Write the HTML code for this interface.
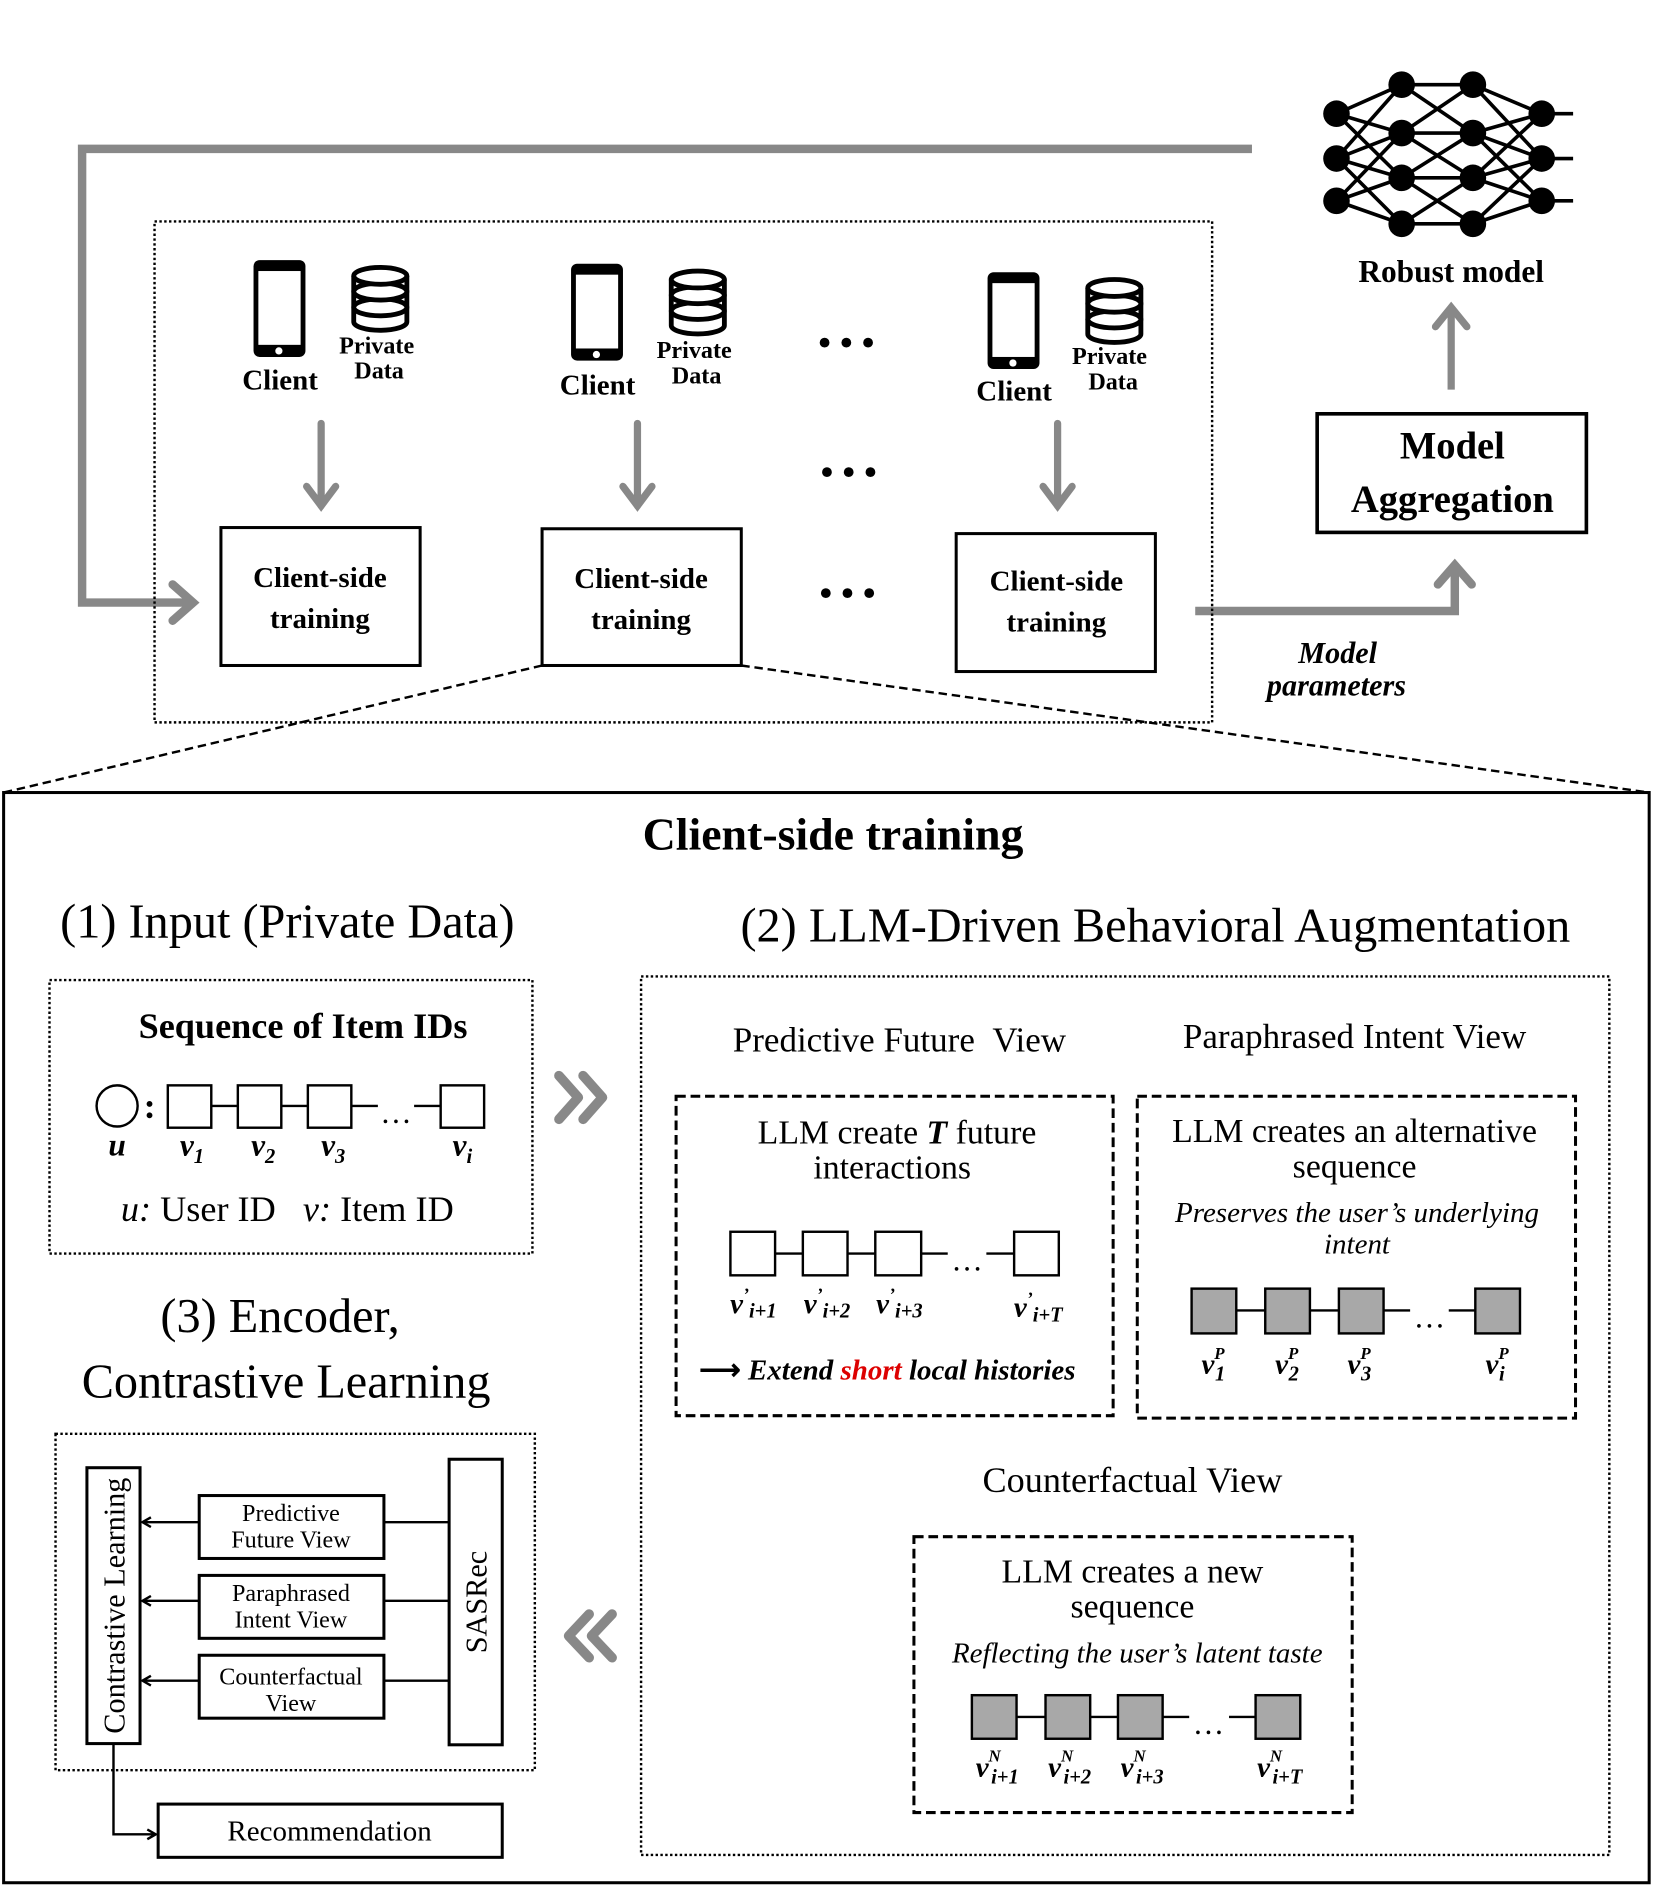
<!DOCTYPE html>
<html><head><meta charset="utf-8"><style>
html,body{margin:0;padding:0;background:#fff}
svg{display:block}
text{font-family:"Liberation Serif",serif;fill:#000}
.b{font-weight:bold}
.i{font-style:italic}
</style></head><body>
<svg width="1654" height="1890" viewBox="0 0 1370 1562" preserveAspectRatio="none" xmlns="http://www.w3.org/2000/svg">
<defs>
<marker id="ah" markerWidth="10" markerHeight="10" refX="8" refY="5" orient="auto" markerUnits="userSpaceOnUse"><path d="M1,1 L8,5 L1,9" fill="none" stroke="#000" stroke-width="2"/></marker>
</defs>
<polyline points="1037,123 68,123 68,498 158,498" fill="none" stroke="#888" stroke-width="7"/>
<polyline points="143,483 160,498 143,513" fill="none" stroke="#888" stroke-width="7" stroke-linecap="round"/>
<g stroke="#000" stroke-width="3">
<line x1="1107" y1="94" x2="1161" y2="70"/><line x1="1107" y1="94" x2="1161" y2="110"/><line x1="1107" y1="94" x2="1161" y2="147"/>
<line x1="1107" y1="131" x2="1161" y2="70"/><line x1="1107" y1="131" x2="1161" y2="110"/><line x1="1107" y1="131" x2="1161" y2="147"/><line x1="1107" y1="131" x2="1161" y2="185"/>
<line x1="1107" y1="166" x2="1161" y2="110"/><line x1="1107" y1="166" x2="1161" y2="147"/><line x1="1107" y1="166" x2="1161" y2="185"/>
<line x1="1161" y1="70" x2="1220" y2="70"/><line x1="1161" y1="70" x2="1220" y2="110"/>
<line x1="1161" y1="110" x2="1220" y2="70"/><line x1="1161" y1="110" x2="1220" y2="110"/><line x1="1161" y1="110" x2="1220" y2="147"/>
<line x1="1161" y1="147" x2="1220" y2="110"/><line x1="1161" y1="147" x2="1220" y2="147"/><line x1="1161" y1="147" x2="1220" y2="185"/>
<line x1="1161" y1="185" x2="1220" y2="147"/><line x1="1161" y1="185" x2="1220" y2="185"/>
<line x1="1277" y1="94" x2="1220" y2="70"/><line x1="1277" y1="94" x2="1220" y2="110"/><line x1="1277" y1="94" x2="1220" y2="147"/>
<line x1="1277" y1="131" x2="1220" y2="70"/><line x1="1277" y1="131" x2="1220" y2="110"/><line x1="1277" y1="131" x2="1220" y2="147"/><line x1="1277" y1="131" x2="1220" y2="185"/>
<line x1="1277" y1="166" x2="1220" y2="110"/><line x1="1277" y1="166" x2="1220" y2="147"/><line x1="1277" y1="166" x2="1220" y2="185"/>
<line x1="1277" y1="94" x2="1303" y2="94"/><line x1="1277" y1="131" x2="1303" y2="131"/><line x1="1277" y1="166" x2="1303" y2="166"/>
</g>
<g fill="#000">
<circle cx="1107" cy="94" r="11"/><circle cx="1107" cy="131" r="11"/><circle cx="1107" cy="166" r="11"/>
<circle cx="1161" cy="70" r="11"/><circle cx="1161" cy="110" r="11"/><circle cx="1161" cy="147" r="11"/><circle cx="1161" cy="185" r="11"/>
<circle cx="1220" cy="70" r="11"/><circle cx="1220" cy="110" r="11"/><circle cx="1220" cy="147" r="11"/><circle cx="1220" cy="185" r="11"/>
<circle cx="1277" cy="94" r="11"/><circle cx="1277" cy="131" r="11"/><circle cx="1277" cy="166" r="11"/>
</g>
<text x="1202" y="233" font-size="26" class="b" text-anchor="middle">Robust model</text>
<line x1="1202" y1="322" x2="1202" y2="256" stroke="#888" stroke-width="6"/>
<polyline points="1189,270 1202,254 1215,270" fill="none" stroke="#888" stroke-width="6" stroke-linecap="round"/>
<rect x="1091" y="342" width="223" height="98" fill="none" stroke="#000" stroke-width="3"/>
<text x="1203" y="379" font-size="32" class="b" text-anchor="middle">Model</text>
<text x="1203" y="423" font-size="32" class="b" text-anchor="middle">Aggregation</text>
<polyline points="990,505 1205,505 1205,468" fill="none" stroke="#888" stroke-width="7"/>
<polyline points="1191,483 1205,467 1219,483" fill="none" stroke="#888" stroke-width="7" stroke-linecap="round"/>
<text x="1108" y="548" font-size="25" class="b i" text-anchor="middle">Model</text>
<text x="1107" y="575" font-size="25" class="b i" text-anchor="middle">parameters</text>
<rect x="128" y="183" width="876" height="414" fill="none" stroke="#000" stroke-width="2" stroke-dasharray="2,2"/>
<g id="c1">
<rect x="210" y="215" width="43" height="80" rx="5" fill="#000"/><rect x="214" y="224" width="35" height="61" fill="#fff"/><circle cx="231" cy="290" r="3" fill="#fff"/>
<g fill="#fff" stroke="#000" stroke-width="4"><path d="M293,228 v38 a22,7 0 0 0 44,0 v-38"/><ellipse cx="315" cy="254" rx="22" ry="7"/><ellipse cx="315" cy="241" rx="22" ry="7"/><ellipse cx="315" cy="228" rx="22" ry="7"/></g>
</g>
<use href="#c1" transform="translate(263,3)"/>
<use href="#c1" transform="translate(608,10)"/>
<g font-size="24" class="b" text-anchor="middle">
<text x="232" y="322">Client</text><text x="312" y="292" font-size="20">Private</text><text x="314" y="313" font-size="20">Data</text>
<text x="495" y="326">Client</text><text x="575" y="296" font-size="20">Private</text><text x="577" y="317" font-size="20">Data</text>
<text x="840" y="331">Client</text><text x="919" y="301" font-size="20">Private</text><text x="922" y="322" font-size="20">Data</text>
</g>
<g font-size="30" class="b" text-anchor="middle"><text x="701" y="293">• • •</text><text x="703" y="400">• • •</text><text x="702" y="500">• • •</text></g>
<g stroke="#888" stroke-width="6" fill="none" stroke-linecap="round">
<line x1="266" y1="350" x2="266" y2="418"/><polyline points="254,402 266,418 278,402"/>
<line x1="528" y1="350" x2="528" y2="418"/><polyline points="516,402 528,418 540,402"/>
<line x1="876" y1="350" x2="876" y2="418"/><polyline points="864,402 876,418 888,402"/>
</g>
<g fill="#fff" stroke="#000" stroke-width="2.5">
<rect x="183" y="436" width="165" height="114"/><rect x="449" y="437" width="165" height="113"/><rect x="792" y="441" width="165" height="114"/>
</g>
<g font-size="24" class="b" text-anchor="middle">
<text x="265" y="485">Client-side</text><text x="265" y="519">training</text>
<text x="531" y="486">Client-side</text><text x="531" y="520">training</text>
<text x="875" y="488">Client-side</text><text x="875" y="522">training</text>
</g>
<line x1="449" y1="550" x2="3" y2="655" stroke="#000" stroke-width="2" stroke-dasharray="7,4"/>
<line x1="614" y1="550" x2="1366" y2="655" stroke="#000" stroke-width="2" stroke-dasharray="7,4"/>
<rect x="3" y="655" width="1363" height="901" fill="none" stroke="#000" stroke-width="2.5"/>
<text x="690" y="702" font-size="38" class="b" text-anchor="middle">Client-side training</text>
<text x="238" y="775" font-size="40" text-anchor="middle">(1) Input (Private Data)</text>
<text x="957" y="778" font-size="40" text-anchor="middle">(2) LLM-Driven Behavioral Augmentation</text>
<rect x="41" y="810" width="400" height="226" fill="none" stroke="#000" stroke-width="2" stroke-dasharray="2,2"/>
<text x="251" y="858" font-size="30" class="b" text-anchor="middle">Sequence of Item IDs</text>
<circle cx="97" cy="914" r="17" fill="none" stroke="#000" stroke-width="2"/>
<text x="124" y="924" font-size="30" class="b" text-anchor="middle">:</text>
<g fill="#fff" stroke="#000" stroke-width="2">
<line x1="175" y1="914" x2="197" y2="914"/><line x1="233" y1="914" x2="255" y2="914"/><line x1="291" y1="914" x2="313" y2="914"/><line x1="343" y1="914" x2="365" y2="914"/>
<rect x="139" y="897" width="36" height="35"/><rect x="197" y="897" width="36" height="35"/><rect x="255" y="897" width="36" height="35"/><rect x="365" y="897" width="36" height="35"/>
</g>
<text x="328" y="928" font-size="26" text-anchor="middle">…</text>
<g font-size="26" class="b i" text-anchor="middle">
<text x="97" y="955">u</text><text x="159" y="955">v<tspan font-size="17" dy="6">1</tspan></text><text x="218" y="955">v<tspan font-size="17" dy="6">2</tspan></text><text x="276" y="955">v<tspan font-size="17" dy="6">3</tspan></text><text x="383" y="955">v<tspan font-size="17" dy="6">i</tspan></text>
</g>
<text x="238" y="1009" font-size="30" text-anchor="middle"><tspan class="i">u:</tspan> User ID &#160;&#160;<tspan class="i">v:</tspan> Item ID</text>
<g fill="none" stroke="#888" stroke-width="8" stroke-linecap="round" stroke-linejoin="round">
<polyline points="463,889 479,907 463,925"/><polyline points="483,889 499,907 483,925"/>
<polyline points="488,1334 471,1352 488,1370"/><polyline points="507,1334 490,1352 507,1370"/>
</g>
<rect x="531" y="807" width="802" height="726" fill="none" stroke="#000" stroke-width="2" stroke-dasharray="2,2"/>
<text x="745" y="869" font-size="29" text-anchor="middle">Predictive Future &#160;View</text>
<text x="1122" y="866" font-size="29" text-anchor="middle">Paraphrased Intent View</text>
<g fill="none" stroke="#000" stroke-width="2.5" stroke-dasharray="8,4">
<rect x="560" y="906" width="362" height="264"/><rect x="942" y="906" width="363" height="266"/><rect x="757" y="1270" width="363" height="228"/>
</g>
<text x="743" y="945" font-size="28" text-anchor="middle">LLM create <tspan class="b i">T</tspan> future</text>
<text x="739" y="974" font-size="28" text-anchor="middle">interactions</text>
<g stroke="#000" stroke-width="2" fill="#fff">
<line x1="642" y1="1036" x2="665" y2="1036"/><line x1="702" y1="1036" x2="725" y2="1036"/><line x1="763" y1="1036" x2="785" y2="1036"/><line x1="817" y1="1036" x2="840" y2="1036"/>
<rect x="605" y="1018" width="37" height="36"/><rect x="665" y="1018" width="37" height="36"/><rect x="725" y="1018" width="38" height="36"/><rect x="840" y="1018" width="37" height="36"/>
</g>
<text x="801" y="1050" font-size="26" text-anchor="middle">…</text>
<g font-size="24" class="b i" text-anchor="middle">
<text x="624" y="1085">v<tspan font-size="15" dy="-10">’</tspan><tspan font-size="17" dy="14">i+1</tspan></text>
<text x="685" y="1085">v<tspan font-size="15" dy="-10">’</tspan><tspan font-size="17" dy="14">i+2</tspan></text>
<text x="745" y="1085">v<tspan font-size="15" dy="-10">’</tspan><tspan font-size="17" dy="14">i+3</tspan></text>
<text x="860" y="1088">v<tspan font-size="15" dy="-10">’</tspan><tspan font-size="17" dy="14">i+T</tspan></text>
</g>
<text x="735" y="1140" font-size="24" class="b i" text-anchor="middle"><tspan font-style="normal">⟶</tspan> Extend <tspan style="fill:#d00">short</tspan> local histories</text>
<text x="1122" y="944" font-size="28" text-anchor="middle">LLM creates an alternative</text>
<text x="1122" y="973" font-size="28" text-anchor="middle">sequence</text>
<text x="1124" y="1010" font-size="24" class="i" text-anchor="middle">Preserves the user’s underlying</text>
<text x="1124" y="1036" font-size="24" class="i" text-anchor="middle">intent</text>
<g stroke="#000" stroke-width="2" fill="#a8a8a8">
<line x1="1024" y1="1083" x2="1048" y2="1083"/><line x1="1085" y1="1083" x2="1109" y2="1083"/><line x1="1146" y1="1083" x2="1168" y2="1083"/><line x1="1200" y1="1083" x2="1222" y2="1083"/>
<rect x="987" y="1065" width="37" height="37"/><rect x="1048" y="1065" width="37" height="37"/><rect x="1109" y="1065" width="37" height="37"/><rect x="1222" y="1065" width="37" height="37"/>
</g>
<text x="1184" y="1097" font-size="26" text-anchor="middle">…</text>
<g font-size="24" class="b i" text-anchor="middle">
<text x="1005" y="1135">v<tspan font-size="14" dy="-12">P</tspan><tspan font-size="17" dx="-8" dy="18">1</tspan></text>
<text x="1066" y="1135">v<tspan font-size="14" dy="-12">P</tspan><tspan font-size="17" dx="-8" dy="18">2</tspan></text>
<text x="1126" y="1135">v<tspan font-size="14" dy="-12">P</tspan><tspan font-size="17" dx="-8" dy="18">3</tspan></text>
<text x="1240" y="1135">v<tspan font-size="14" dy="-12">P</tspan><tspan font-size="17" dx="-8" dy="18">i</tspan></text>
</g>
<text x="938" y="1233" font-size="30" text-anchor="middle">Counterfactual View</text>
<text x="938" y="1308" font-size="28" text-anchor="middle">LLM creates a new</text>
<text x="938" y="1337" font-size="28" text-anchor="middle">sequence</text>
<text x="942" y="1374" font-size="24" class="i" text-anchor="middle">Reflecting the user’s latent taste</text>
<g stroke="#000" stroke-width="2" fill="#a8a8a8">
<line x1="842" y1="1419" x2="866" y2="1419"/><line x1="903" y1="1419" x2="926" y2="1419"/><line x1="963" y1="1419" x2="985" y2="1419"/><line x1="1018" y1="1419" x2="1040" y2="1419"/>
<rect x="805" y="1401" width="37" height="36"/><rect x="866" y="1401" width="37" height="36"/><rect x="926" y="1401" width="37" height="36"/><rect x="1040" y="1401" width="37" height="36"/>
</g>
<text x="1001" y="1433" font-size="26" text-anchor="middle">…</text>
<g font-size="24" class="b i" text-anchor="middle">
<text x="826" y="1468">v<tspan font-size="14" dy="-12">N</tspan><tspan font-size="17" dx="-8" dy="18">i+1</tspan></text>
<text x="886" y="1468">v<tspan font-size="14" dy="-12">N</tspan><tspan font-size="17" dx="-8" dy="18">i+2</tspan></text>
<text x="946" y="1468">v<tspan font-size="14" dy="-12">N</tspan><tspan font-size="17" dx="-8" dy="18">i+3</tspan></text>
<text x="1060" y="1468">v<tspan font-size="14" dy="-12">N</tspan><tspan font-size="17" dx="-8" dy="18">i+T</tspan></text>
</g>
<text x="232" y="1101" font-size="40" text-anchor="middle">(3) Encoder,</text>
<text x="237" y="1155" font-size="40" text-anchor="middle">Contrastive Learning</text>
<rect x="46" y="1185" width="397" height="278" fill="none" stroke="#000" stroke-width="2" stroke-dasharray="2,2"/>
<g fill="#fff" stroke="#000" stroke-width="2.5">
<rect x="72" y="1213" width="44" height="228"/><rect x="372" y="1206" width="44" height="236"/>
<rect x="165" y="1236" width="153" height="52"/><rect x="165" y="1302" width="153" height="52"/><rect x="165" y="1368" width="153" height="52"/>
<rect x="131" y="1491" width="285" height="44"/>
</g>
<text transform="translate(103,1327) rotate(-90)" font-size="25" text-anchor="middle">Contrastive Learning</text>
<text transform="translate(403,1324) rotate(-90)" font-size="25" text-anchor="middle">SASRec</text>
<g font-size="20" text-anchor="middle">
<text x="241" y="1257">Predictive</text><text x="241" y="1279">Future View</text>
<text x="241" y="1323">Paraphrased</text><text x="241" y="1345">Intent View</text>
<text x="241" y="1392">Counterfactual</text><text x="241" y="1414">View</text>
</g>
<text x="273" y="1521" font-size="24" text-anchor="middle">Recommendation</text>
<g stroke="#000" stroke-width="2" fill="none">
<line x1="318" y1="1258" x2="372" y2="1258"/><line x1="318" y1="1323" x2="372" y2="1323"/><line x1="318" y1="1389" x2="372" y2="1389"/>
<line x1="165" y1="1258" x2="118" y2="1258" marker-end="url(#ah)"/><line x1="165" y1="1323" x2="118" y2="1323" marker-end="url(#ah)"/><line x1="165" y1="1389" x2="118" y2="1389" marker-end="url(#ah)"/>
<polyline points="94,1441 94,1516 129,1516" marker-end="url(#ah)"/>
</g>
</svg>
</body></html>
